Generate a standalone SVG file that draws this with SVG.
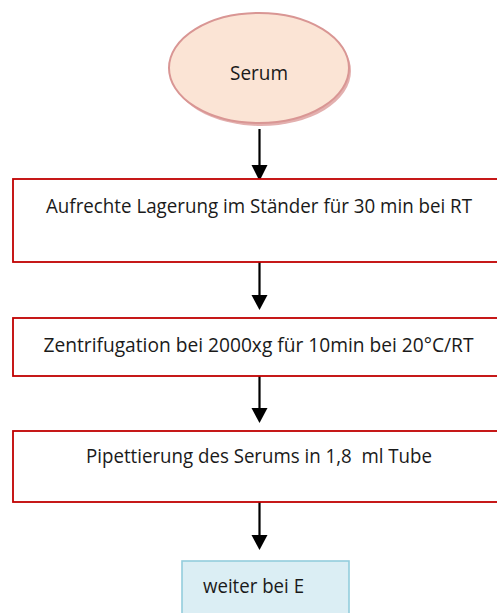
<svg xmlns="http://www.w3.org/2000/svg" width="497" height="613" viewBox="0 0 497 613">
<style>
.box{fill:#ffffff;stroke:#C00000;stroke-width:1.8}
.t{font-family:"Open Sans","Noto Sans","Liberation Sans",sans-serif;font-size:20px;fill:#1a1a1a}
.c{stroke:#000;stroke-width:2.2;fill:none}
</style>
<rect width="497" height="613" fill="#ffffff"/>
<g id="connectors">
<line class="c" x1="259.5" y1="129" x2="259.5" y2="166"/>
<path d="M251.5,165 L267.5,165 L259.5,181 Z" fill="#000"/>
<line class="c" x1="259.5" y1="262" x2="259.5" y2="296"/>
<path d="M251.5,295 L267.5,295 L259.5,310 Z" fill="#000"/>
<line class="c" x1="259.5" y1="376" x2="259.5" y2="409"/>
<path d="M251.5,408 L267.5,408 L259.5,423 Z" fill="#000"/>
<line class="c" x1="259.5" y1="502" x2="259.5" y2="536"/>
<path d="M251.5,535 L267.5,535 L259.5,550 Z" fill="#000"/>
</g>
<g id="serum">
<ellipse cx="261" cy="71" rx="90" ry="55" fill="#C0504D" opacity="0.45"/>
<ellipse cx="259" cy="68" rx="90" ry="55" fill="#FBE4D5" stroke="#D99694" stroke-width="2"/>
<text class="t" x="259" y="80" text-anchor="middle" textLength="58" lengthAdjust="spacingAndGlyphs">Serum</text>
</g>
<g id="step1">
<rect class="box" x="13" y="179" width="486.5" height="83"/>
<text class="t" x="259" y="212.5" text-anchor="middle" textLength="426" lengthAdjust="spacingAndGlyphs">Aufrechte Lagerung im Ständer für 30 min bei RT</text>
</g>
<g id="step2">
<rect class="box" x="13" y="318" width="486.5" height="58"/>
<text class="t" x="258.5" y="351.5" text-anchor="middle" textLength="430" lengthAdjust="spacingAndGlyphs">Zentrifugation bei 2000xg für 10min bei 20°C/RT</text>
</g>
<g id="step3">
<rect class="box" x="13" y="431" width="486.5" height="71"/>
<text class="t" x="259" y="463.3" text-anchor="middle" textLength="346" lengthAdjust="spacingAndGlyphs" xml:space="preserve">Pipettierung des Serums in 1,8  ml Tube</text>
</g>
<g id="weiter">
<rect x="182" y="561" width="167" height="54" fill="#DBEEF4" stroke="#93CDDD" stroke-width="1.6"/>
<text class="t" x="203" y="593.3" textLength="101" lengthAdjust="spacingAndGlyphs">weiter bei E</text>
</g>
</svg>
